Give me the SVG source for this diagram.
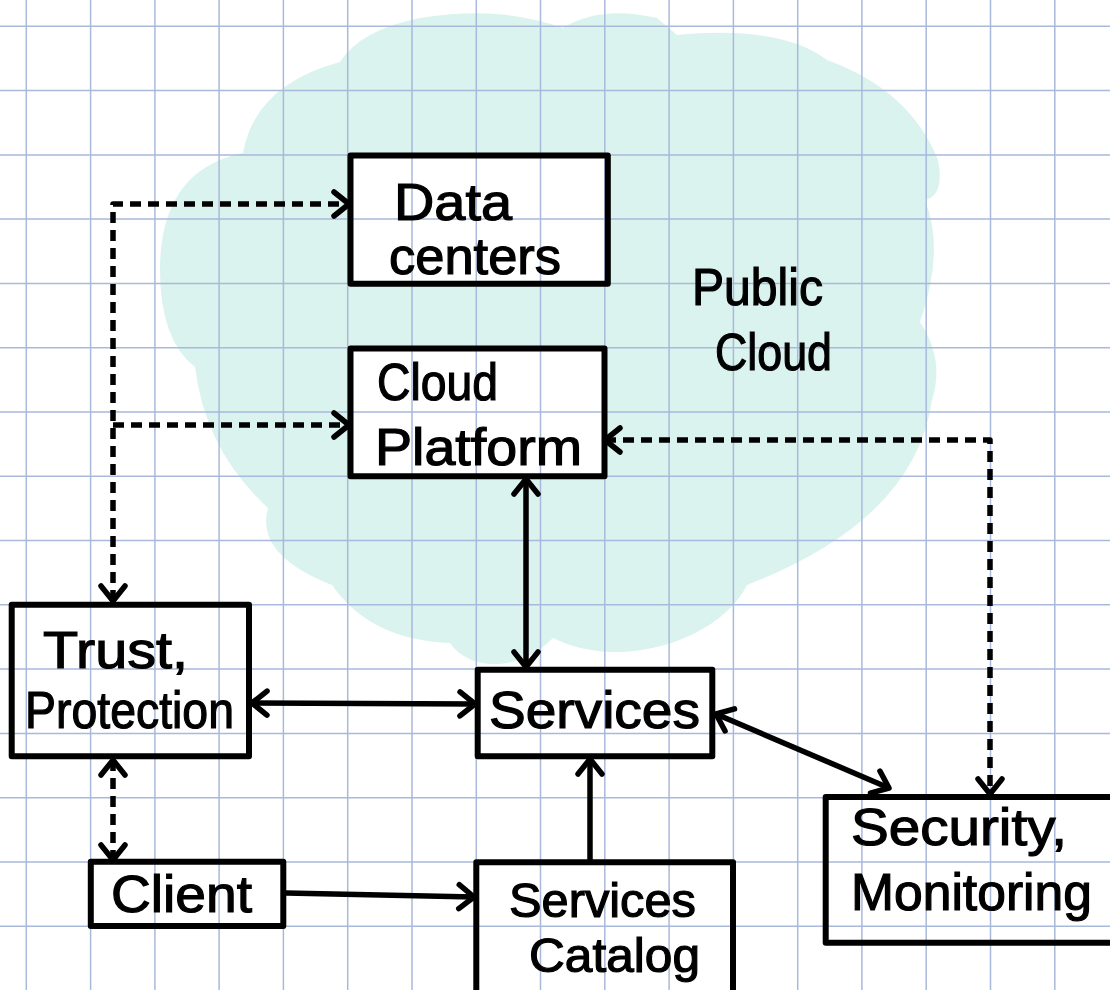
<svg xmlns="http://www.w3.org/2000/svg" width="1110" height="990" viewBox="0 0 1110 990">
  <style>
    .grid line { stroke: #a9b9db; stroke-width: 1.5; }
    .box { fill: none; stroke: #000; stroke-width: 6; stroke-linejoin: round; }
    .lbl { font-family: "Liberation Sans", Arial, sans-serif; font-size: 52px; fill: #000; stroke: #000; stroke-width: 1.2; }
    .sm { font-size: 48px; }
    .conn { fill: none; stroke: #000; stroke-width: 5.5; stroke-linecap: butt; stroke-linejoin: round; }
    .dash { stroke-dasharray: 11 7; }
  </style>
  <defs>
    <marker id="ah" markerUnits="userSpaceOnUse" viewBox="-22 -18 26 36" markerWidth="26" markerHeight="36" refX="0" refY="0" orient="auto-start-reverse">
      <path d="M-15,-12 L0,0 L-15,12" fill="none" stroke="#000" stroke-width="5.5" stroke-linecap="round" stroke-linejoin="round" stroke-dasharray="none"/>
    </marker>
  </defs>

  <rect x="0" y="0" width="1110" height="990" fill="#fff"/>

  <!-- cloud with holes for the boxes inside it -->
  <path id="cloud" fill="#daf3ee" fill-rule="evenodd" d="
    M340,62 Q360,30 420,18 Q500,5 563,28 Q600,5 657,18 L677,35 Q780,25 827,60
    Q910,90 938,160 Q945,195 925,200 Q945,250 920,322 Q945,360 932,400
    Q915,520 747,585 C720,640 620,672 553,638 C520,672 470,672 450,643
    Q370,640 332,585 Q255,555 268,508 Q205,450 195,367 Q160,340 160,270
    Q160,170 243,153 Q255,85 340,62 Z
    M350.5,155.5 H607.8 V283.8 H350.5 Z
    M350.5,348.5 H604.5 V476.3 H350.5 Z"/>

  <g class="grid">
    <line x1="26.3" y1="0" x2="26.3" y2="990"/>
    <line x1="90.6" y1="0" x2="90.6" y2="990"/>
    <line x1="154.9" y1="0" x2="154.9" y2="990"/>
    <line x1="219.1" y1="0" x2="219.1" y2="990"/>
    <line x1="283.4" y1="0" x2="283.4" y2="990"/>
    <line x1="347.7" y1="0" x2="347.7" y2="990"/>
    <line x1="412" y1="0" x2="412" y2="990"/>
    <line x1="476.3" y1="0" x2="476.3" y2="990"/>
    <line x1="540.5" y1="0" x2="540.5" y2="990"/>
    <line x1="604.8" y1="0" x2="604.8" y2="990"/>
    <line x1="669.1" y1="0" x2="669.1" y2="990"/>
    <line x1="733.4" y1="0" x2="733.4" y2="990"/>
    <line x1="797.7" y1="0" x2="797.7" y2="990"/>
    <line x1="861.9" y1="0" x2="861.9" y2="990"/>
    <line x1="926.2" y1="0" x2="926.2" y2="990"/>
    <line x1="990.5" y1="0" x2="990.5" y2="990"/>
    <line x1="1054.8" y1="0" x2="1054.8" y2="990"/>
    <line x1="0" y1="26.3" x2="1110" y2="26.3"/>
    <line x1="0" y1="90.6" x2="1110" y2="90.6"/>
    <line x1="0" y1="154.9" x2="1110" y2="154.9"/>
    <line x1="0" y1="219.1" x2="1110" y2="219.1"/>
    <line x1="0" y1="283.4" x2="1110" y2="283.4"/>
    <line x1="0" y1="347.7" x2="1110" y2="347.7"/>
    <line x1="0" y1="412" x2="1110" y2="412"/>
    <line x1="0" y1="476.3" x2="1110" y2="476.3"/>
    <line x1="0" y1="540.5" x2="1110" y2="540.5"/>
    <line x1="0" y1="604.8" x2="1110" y2="604.8"/>
    <line x1="0" y1="669.1" x2="1110" y2="669.1"/>
    <line x1="0" y1="733.4" x2="1110" y2="733.4"/>
    <line x1="0" y1="797.7" x2="1110" y2="797.7"/>
    <line x1="0" y1="861.9" x2="1110" y2="861.9"/>
    <line x1="0" y1="926.2" x2="1110" y2="926.2"/>
  </g>

  <text class="lbl" x="692" y="305" textLength="131" lengthAdjust="spacingAndGlyphs">Public</text>
  <text class="lbl" x="715" y="370" textLength="117" lengthAdjust="spacingAndGlyphs">Cloud</text>

  <g id="connectors">
    <path class="conn dash" d="M113,601 V204 H349" marker-start="url(#ah)" marker-end="url(#ah)"/>
    <path class="conn dash" d="M113,425 H349" marker-end="url(#ah)"/>
    <path class="conn dash" d="M113,760 V860" marker-start="url(#ah)" marker-end="url(#ah)"/>
    <path class="conn dash" d="M605,440 H990 V794" marker-start="url(#ah)" marker-end="url(#ah)"/>
    <path class="conn" d="M526,479 V667" marker-start="url(#ah)" marker-end="url(#ah)"/>
    <path class="conn" d="M252,703 L475,704" marker-start="url(#ah)" marker-end="url(#ah)"/>
    <path class="conn" d="M286,893 L474,897" marker-end="url(#ah)"/>
    <path class="conn" d="M590,860 V759" marker-end="url(#ah)"/>
    <path class="conn" d="M716,714 L889,788" marker-start="url(#ah)" marker-end="url(#ah)"/>
  </g>

  <g id="node-data-centers">
    <rect class="box" x="350.5" y="155.5" width="257.3" height="128.3"/>
    <text class="lbl" x="394" y="220" textLength="118" lengthAdjust="spacingAndGlyphs">Data</text>
    <text class="lbl" x="389" y="274" textLength="172" lengthAdjust="spacingAndGlyphs">centers</text>
  </g>

  <g id="node-cloud-platform">
    <rect class="box" x="350.5" y="348.5" width="254" height="127.8"/>
    <text class="lbl" x="377" y="400" textLength="121" lengthAdjust="spacingAndGlyphs">Cloud</text>
    <text class="lbl" x="375" y="465" textLength="207" lengthAdjust="spacingAndGlyphs">Platform</text>
  </g>

  <g id="node-trust-protection">
    <rect class="box" x="11.7" y="604.7" width="237.3" height="151.6"/>
    <text class="lbl" x="43" y="668" textLength="145" lengthAdjust="spacingAndGlyphs">Trust,</text>
    <text class="lbl" x="25" y="728" textLength="209" lengthAdjust="spacingAndGlyphs">Protection</text>
  </g>

  <g id="node-services">
    <rect class="box" x="477.7" y="669.7" width="234.6" height="86.5"/>
    <text class="lbl" x="489" y="728" textLength="211" lengthAdjust="spacingAndGlyphs">Services</text>
  </g>

  <g id="node-client">
    <rect class="box" x="90.8" y="861.7" width="192.5" height="64.3"/>
    <text class="lbl" x="111" y="912" textLength="141" lengthAdjust="spacingAndGlyphs">Client</text>
  </g>

  <g id="node-services-catalog">
    <rect class="box" x="476.3" y="862.3" width="256.7" height="140"/>
    <text class="lbl sm" x="509" y="917" textLength="187" lengthAdjust="spacingAndGlyphs">Services</text>
    <text class="lbl sm" x="529" y="972" textLength="171" lengthAdjust="spacingAndGlyphs">Catalog</text>
  </g>

  <g id="node-security-monitoring">
    <rect class="box" x="825.7" y="797" width="300" height="145.7"/>
    <text class="lbl" x="851" y="845" textLength="216" lengthAdjust="spacingAndGlyphs">Security,</text>
    <text class="lbl" x="851" y="910" textLength="241" lengthAdjust="spacingAndGlyphs">Monitoring</text>
  </g>
</svg>
